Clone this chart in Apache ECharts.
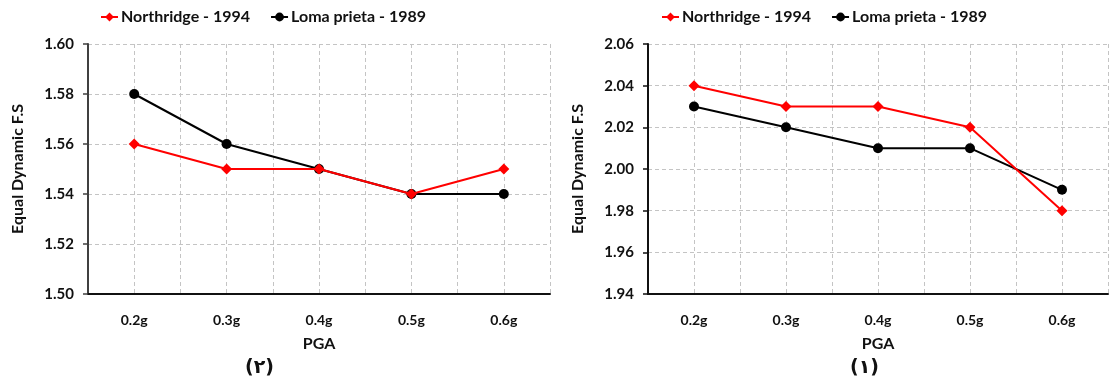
<!DOCTYPE html>
<html>
<head>
<meta charset="utf-8">
<script src="https://cdn.jsdelivr.net/npm/echarts@6/dist/echarts.min.js"></script>
<style>
  html, body { margin: 0; padding: 0; background: #fff; }
  #chart { width: 1111px; height: 385px; }
</style>
</head>
<body>
<div id="chart"></div>
<script>
// PGA levels shared by both panels
const categories = ['0.2g', '0.3g', '0.4g', '0.5g', '0.6g'];
const seriesNames = ['Northridge - 1994', 'Loma prieta - 1989'];

// Panel (٢): left
const leftNorthridge = [1.56, 1.55, 1.55, 1.54, 1.55];
const leftLoma = [1.58, 1.56, 1.55, 1.54, 1.54];
const leftTicks = { min: 1.50, max: 1.60, interval: 0.02 };

// Panel (١): right
const rightNorthridge = [2.04, 2.03, 2.03, 2.02, 1.98];
const rightLoma = [2.03, 2.02, 2.01, 2.01, 1.99];
const rightTicks = { min: 1.94, max: 2.06, interval: 0.02 };

const FONT = 'Lato, "Open Sans", sans-serif';
const gridColor = '#c4c4c4';

function catAxis(gridIndex) {
  return {
    type: 'category', gridIndex, data: categories, boundaryGap: true,
    name: 'PGA', nameLocation: 'middle', nameGap: 42,
    nameTextStyle: { fontFamily: FONT, fontWeight: 'bold', fontSize: 16, color: '#111' },
    axisLine: { lineStyle: { color: '#111', width: 2 } },
    axisTick: { alignWithLabel: true, length: 4, lineStyle: { color: '#111', width: 2 } },
    axisLabel: { margin: 19, fontFamily: FONT, fontWeight: 'bold', fontSize: 14, color: '#111' },
    splitLine: { show: false }
  };
}

// hidden value axis used only to draw dashed verticals at centres and boundaries
function gridXAxis(gridIndex) {
  return {
    type: 'value', gridIndex, min: 0, max: 10, interval: 1, position: 'top',
    axisLine: { show: false }, axisTick: { show: false }, axisLabel: { show: false },
    splitLine: { show: true, lineStyle: { color: gridColor, type: [4, 3], width: 1 } }
  };
}

function valAxis(gridIndex, t, lineColor) {
  return {
    type: 'value', gridIndex, min: t.min, max: t.max, interval: t.interval,
    name: 'Equal Dynamic F.S', nameLocation: 'middle', nameGap: 62,
    nameTextStyle: { fontFamily: FONT, fontWeight: 'bold', fontSize: 16, color: '#111' },
    axisLine: { show: true, lineStyle: { color: lineColor, width: 2 } },
    axisTick: { show: true, length: 5, lineStyle: { color: lineColor, width: 1.5 } },
    axisLabel: { margin: 14, fontFamily: FONT, fontWeight: 'bold', fontSize: 15, color: '#111',
      formatter: v => v.toFixed(2) },
    splitLine: { show: true, lineStyle: { color: gridColor, type: [4, 3], width: 1 } }
  };
}

function lineSeries(name, data, idx, color, symbol, size) {
  return {
    name, type: 'line', data, xAxisIndex: idx, yAxisIndex: idx,
    symbol, symbolSize: size, showSymbol: true,
    lineStyle: { color, width: 2 }, itemStyle: { color },
    z: name === seriesNames[0] ? 3 : 2
  };
}

function legend(left) {
  return {
    left, top: 4, itemGap: 20, itemWidth: 17, itemHeight: 11,
    data: seriesNames,
    textStyle: { fontFamily: FONT, fontWeight: 'bold', fontSize: 16, color: '#111', padding: [0, 0, 0, -2] }
  };
}

const chart = echarts.init(document.getElementById('chart'), null, { renderer: 'canvas' });
chart.setOption({
  animation: false,
  legend: [legend(95), legend(656)],
  grid: [
    { left: 88, right: 561, top: 44, bottom: 91 },
    { left: 648, right: 3, top: 44, bottom: 91 }
  ],
  xAxis: [catAxis(0), catAxis(1), gridXAxis(0), gridXAxis(1)],
  yAxis: [valAxis(0, leftTicks, '#404040'), valAxis(1, rightTicks, '#111')],
  series: [
    lineSeries(seriesNames[0], leftNorthridge, 0, '#ff0000', 'diamond', 11),
    lineSeries(seriesNames[1], leftLoma, 0, '#000000', 'circle', 10),
    lineSeries(seriesNames[0], rightNorthridge, 1, '#ff0000', 'diamond', 11),
    lineSeries(seriesNames[1], rightLoma, 1, '#000000', 'circle', 10)
  ],
  graphic: [
    { type: 'text', left: 245, top: 359, style: { text: '(٢)', font: 'bold 19px "DejaVu Sans"', fill: '#111' } },
    { type: 'text', left: 850, top: 359, style: { text: '(١)', font: 'bold 19px "DejaVu Sans"', fill: '#111' } }
  ]
});
</script>
</body>
</html>
